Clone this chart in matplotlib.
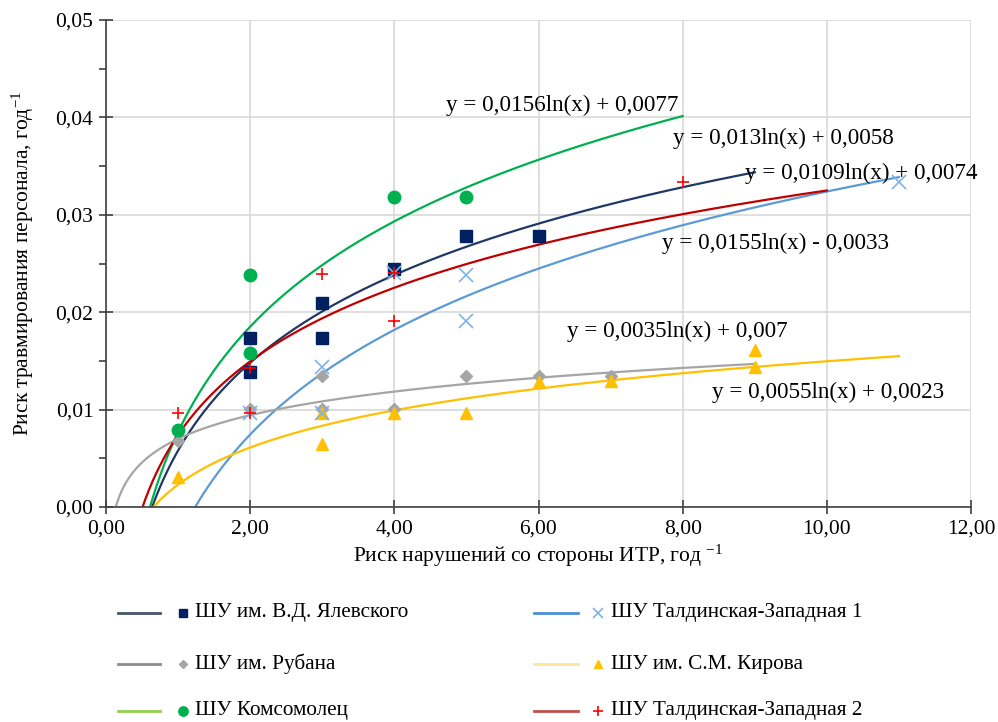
import numpy as np
import matplotlib
matplotlib.use("Agg")
import matplotlib.pyplot as plt
from matplotlib.lines import Line2D
from matplotlib.ticker import FuncFormatter, MultipleLocator

plt.rcParams['font.family'] = ['Liberation Serif', 'DejaVu Serif']
plt.rcParams['mathtext.fontset'] = 'custom'
plt.rcParams['mathtext.rm'] = 'Liberation Serif'
plt.rcParams['mathtext.it'] = 'Liberation Serif:italic'

# ---------------- data ----------------
names = ["ШУ им. В.Д. Ялевского", "ШУ Талдинская-Западная 1",
         "ШУ им. Рубана", "ШУ им. С.М. Кирова",
         "ШУ Комсомолец", "ШУ Талдинская-Западная 2"]

yal_x = [2, 2, 3, 3, 4, 5, 6]
yal_y = [0.0174, 0.0139, 0.0209, 0.0174, 0.0244, 0.0278, 0.0278]

tz1_x = [2, 3, 3, 4, 5, 5, 11]
tz1_y = [0.0096, 0.0144, 0.0097, 0.0240, 0.0238, 0.0191, 0.0334]

rub_x = [1, 2, 3, 3, 4, 5, 6, 7]
rub_y = [0.0068, 0.0101, 0.0135, 0.0101, 0.0101, 0.0135, 0.0135, 0.0135]

kir_x = [1, 3, 3, 4, 5, 6, 7, 9, 9]
kir_y = [0.0031, 0.0097, 0.0065, 0.0097, 0.0097, 0.0128, 0.0129, 0.0144, 0.0161]

kom_x = [1, 2, 2, 4, 5]
kom_y = [0.0079, 0.0238, 0.0158, 0.0318, 0.0318]

tz2_x = [1, 2, 2, 3, 4, 4, 8]
tz2_y = [0.0096, 0.0143, 0.0096, 0.0239, 0.0240, 0.0191, 0.0334]

# trendline coefficients y = a*ln(x) + b and end of drawn range
trend_a = [0.013, 0.0155, 0.0035, 0.0055, 0.0156, 0.0109]
trend_b = [0.0058, -0.0033, 0.007, 0.0023, 0.0077, 0.0074]
trend_end = [9, 11, 9, 11, 8, 10]
eq_labels = ["y = 0,013ln(x) + 0,0058", "y = 0,0155ln(x) - 0,0033",
             "y = 0,0035ln(x) + 0,007", "y = 0,0055ln(x) + 0,0023",
             "y = 0,0156ln(x) + 0,0077", "y = 0,0109ln(x) + 0,0074"]

xs_all = [yal_x, tz1_x, rub_x, kir_x, kom_x, tz2_x]
ys_all = [yal_y, tz1_y, rub_y, kir_y, kom_y, tz2_y]

# styles
line_cols = ['#1F3864', '#5B9BD5', '#A5A5A5', '#FFC000', '#00B050', '#C00000']
leg_line_cols = ['#44546A', '#4A90D0', '#8C8C8C', '#FFE699', '#92D050', '#C0504D']
mk_cols = ['#002060', '#7FB2E5', '#A5A5A5', '#FFC000', '#00B050', '#FF0000']
markers = ['s', 'x', 'D', '^', 'o', '+']
msizes = [8, 10, 6, 8, 9, 9]
mew = [1, 1.2, 1, 1, 1, 1.2]

fig = plt.figure(figsize=(9.98, 7.22), dpi=100)
ax = fig.add_axes([106/998, 1-507/722, (971-106)/998, (507-20)/722])

# trendlines
for a, b, e, c in zip(trend_a, trend_b, trend_end, line_cols):
    xx = np.linspace(0.05, e, 600)
    ax.plot(xx, a*np.log(xx) + b, color=c, lw=1.6, zorder=2)

# points
order = [2, 3, 0, 4, 1, 5]
for i in order:
    ax.plot(xs_all[i], ys_all[i], linestyle='none', marker=markers[i],
            color=mk_cols[i], ms=msizes[i], mew=mew[i], zorder=3)

ax.set_xlim(0, 12)
ax.set_ylim(0, 0.05)
ax.xaxis.set_major_locator(MultipleLocator(2))
ax.yaxis.set_major_locator(MultipleLocator(0.01))
ax.yaxis.set_minor_locator(MultipleLocator(0.005))
ax.xaxis.set_major_formatter(FuncFormatter(lambda v, p: f"{v:.2f}".replace('.', ',')))
ax.yaxis.set_major_formatter(FuncFormatter(lambda v, p: f"{v:.2f}".replace('.', ',')))
ax.grid(True, which='major', color='#D9D9D9', lw=1.2)
ax.set_axisbelow(True)
for s in ['top', 'right']:
    ax.spines[s].set_visible(False)
for s in ['left', 'bottom']:
    ax.spines[s].set_color('#404040')
    ax.spines[s].set_linewidth(1.2)
ax.tick_params(axis='both', which='major', direction='inout', length=10,
               width=1.2, color='#404040', labelsize=15.5, pad=4)
ax.tick_params(axis='y', which='minor', direction='out', length=5,
               width=1.2, color='#404040')

ax.set_xlabel("Риск нарушений со стороны ИТР, год $^{\\mathrm{-1}}$", fontsize=15.5, labelpad=3)
ax.set_ylabel("Риск травмирования персонала, год$^{\\mathrm{-1}}$", fontsize=15.5, labelpad=14)

# equation labels
eq_pos = [(7.87, 0.0378), (7.72, 0.0271), (6.40, 0.0180), (8.40, 0.0118),
          (4.71, 0.0412), (8.87, 0.0342)]
for lab, (px, py) in zip(eq_labels, eq_pos):
    ax.text(px, py, lab, fontsize=16.7, va='center', ha='left', color='#000000', zorder=5)

# legend (manual)
rows_y = [613, 664, 711]
col_line = [(118, 160), (534, 578)]
col_mark = [183, 598]
col_text = [195, 611]
W, H = 998, 722
for k in range(6):
    col = k % 2
    row = k // 2
    yy = 1 - rows_y[row]/H
    x0, x1 = col_line[col]
    fig.add_artist(Line2D([x0/W, x1/W], [yy, yy], color=leg_line_cols[k], lw=2,
                          transform=fig.transFigure))
    fig.add_artist(Line2D([col_mark[col]/W], [yy], marker=markers[k], color=mk_cols[k],
                          ms=msizes[k]*0.75, mew=mew[k], linestyle='none',
                          transform=fig.transFigure))
    fig.text(col_text[col]/W, yy, names[k], fontsize=15.3, va='center', ha='left')

fig.savefig("out.png", dpi=100)
